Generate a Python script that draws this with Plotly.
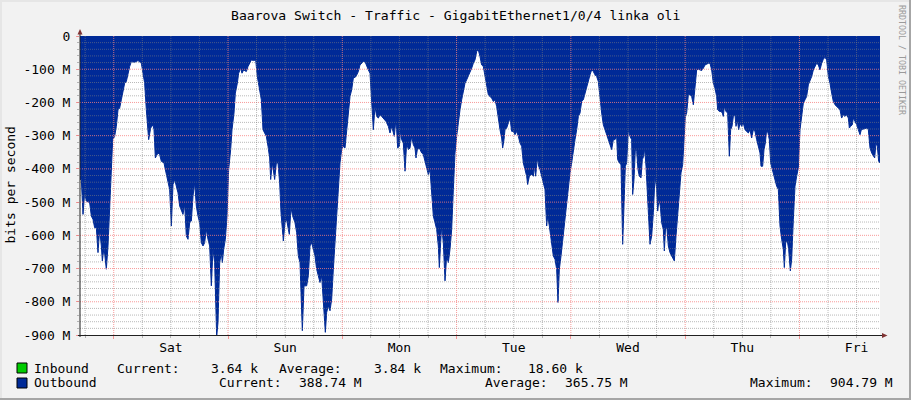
import pandas as pd
import plotly.graph_objects as go

# ---------------- data ----------------
# hours since the start of the graph (Fri 16:55), outbound traffic in Mbit/s
hours = [
    0, 0.28, 0.63, 0.98, 1.33, 2.03, 2.38, 2.73, 3.08, 3.43, 3.78, 4.13, 4.48, 4.69, 5.04, 5.53, 5.88, 6.23, 6.58, 6.86,
    7.28, 7.63, 7.98, 8.33, 8.68, 9.03, 9.38, 9.73, 10.08, 10.43, 10.78, 11.48, 12.18, 12.53, 12.88, 13.23, 13.58, 13.93,
    14.28, 14.42, 14.84, 15.33, 15.54, 15.82, 16.38, 16.73, 17.08, 17.64, 17.92, 18.34, 18.83, 19.18, 19.53, 19.88, 20.23,
    20.58, 20.93, 21.63, 21.98, 22.33, 22.68, 23.03, 23.38, 23.73, 24.08, 24.43, 24.78, 25.13, 25.48, 25.83, 26.18, 26.53,
    26.88, 27.23, 27.58, 27.93, 28.28, 28.49, 28.7, 28.98, 29.33, 29.68, 29.89, 30.17, 30.52, 30.87, 31.22, 31.64, 31.92,
    32.34, 32.62, 33.04, 33.32, 33.74, 34.02, 34.37, 34.93, 35.28, 35.63, 35.98, 36.47, 36.89, 37.24, 37.73, 38.08, 38.43,
    39.13, 39.48, 39.83, 40.04, 40.39, 40.88, 41.23, 41.58, 41.93,
    42.21, 42.7, 43.05, 43.4, 43.75, 43.96, 44.31, 44.66, 45.15, 45.5, 45.85, 46.2, 46.41, 46.69, 47.04, 47.6, 47.95, 48.3,
    48.65, 49.0, 49.35, 49.7, 50.05, 50.4, 50.75, 51.1, 51.52, 51.8, 52.15, 52.5, 52.85, 53.2, 53.55, 53.9, 54.25, 54.6,
    54.95, 55.3, 55.65, 56.0, 56.35, 56.7, 57.05, 57.4, 57.96, 58.45, 58.8, 59.15, 59.5, 59.85, 60.2, 60.55, 60.9, 61.25,
    61.6, 61.95, 62.3, 62.65, 63.0, 63.35, 63.7, 64.26, 64.75, 65.1, 65.45, 65.8, 66.01, 66.29, 66.5, 66.71, 67.06, 67.34,
    67.55, 67.9, 68.25, 68.6, 68.95, 69.3, 69.65, 70.0, 70.35, 70.56, 70.84, 71.26, 71.75, 72.1, 72.45, 72.8, 73.15, 73.5,
    73.85, 74.2, 74.55, 74.9, 75.25, 75.46, 75.74, 75.95, 76.3, 76.65, 77.0, 77.35, 77.7, 78.05, 78.4, 78.75, 79.1, 79.45,
    79.8, 80.15, 80.5, 80.85, 81.2, 81.55, 81.9, 82.25, 82.6, 82.95, 83.3, 83.65, 84.0,
    84.35, 84.7, 85.05, 85.4, 85.75, 86.1, 86.45, 86.8, 87.15, 87.5, 87.85, 88.2, 88.55, 88.76, 89.04, 89.25, 89.6, 89.95,
    90.3, 90.65, 91.0, 91.35, 91.7, 92.05, 92.4, 92.75, 93.1, 93.45, 93.8, 94.01, 94.36, 94.85, 95.2, 95.41, 95.69, 96.04,
    96.32, 96.6, 96.95, 97.3, 97.65, 98.0, 98.21, 98.56, 98.84, 99.12, 99.4, 99.75, 100.1, 100.38, 100.66, 101.01, 101.36,
    101.85, 102.2, 102.55, 102.9, 103.25, 103.6, 103.95, 104.3, 104.65, 105.0, 105.35, 105.7, 106.05, 106.4, 106.75, 107.1,
    107.45, 107.8, 108.15, 108.5, 108.85, 109.2, 109.55, 109.9, 110.25, 110.6, 110.95, 111.3, 111.65, 112.0, 112.35, 112.7,
    112.91, 113.26, 113.61, 113.96, 114.24, 114.52, 114.8, 115.15, 115.5, 115.85, 116.06, 116.34, 116.62, 116.9, 117.18,
    117.46, 117.81, 118.09, 118.37, 118.58, 118.86, 119.14, 119.42, 119.7, 120.05, 120.4, 120.75, 121.1, 121.31, 121.59,
    121.87, 122.15, 122.5, 122.71, 122.99, 123.27, 123.55, 123.9, 124.25, 124.6, 124.81, 125.16, 125.51, 125.79,
    126.21, 126.56, 126.84, 127.12, 127.4, 127.75, 128.1, 128.45, 128.8, 129.15, 129.5, 129.85, 130.2, 130.55, 130.9,
    131.25, 131.6, 131.95, 132.3, 132.65, 133.0, 133.35, 133.7, 133.91, 134.26, 134.61, 134.89, 135.1, 135.31, 135.66,
    136.01, 136.36, 136.64, 136.92, 137.2, 137.55, 137.76, 138.04, 138.32, 138.6, 138.95, 139.3, 139.65, 140.0, 140.35,
    140.7, 141.05, 141.4, 141.75, 142.1, 142.45, 142.8, 143.01, 143.36, 143.64, 143.92, 144.2, 144.48, 144.76, 145.04,
    145.39, 145.74, 146.02, 146.3, 146.65, 147.0, 147.35, 147.7, 147.91, 148.19, 148.54, 148.82, 149.17, 149.45, 149.8,
    150.15, 150.5, 150.85, 151.2, 151.55, 151.9, 152.25, 152.6, 152.95, 153.3, 153.65, 154.0, 154.35, 154.7, 155.05, 155.4,
    155.75, 156.1, 156.45, 156.8, 157.15, 157.5, 157.85, 158.2, 158.55, 158.9, 159.25, 159.6, 159.95, 160.3, 160.65, 161.0,
    161.35, 161.56, 161.84, 162.19, 162.4, 162.75, 163.1, 163.45, 163.8, 164.08, 164.5, 164.85, 165.2, 165.55, 165.9,
    166.25, 166.6, 166.88, 167.16, 167.44, 167.72, 168.0,
]
outbound_mbps = [
    432, 432, 537, 472, 497, 502, 542, 552, 577, 577, 652, 582, 632, 677, 637, 702, 632, 522, 432, 312,
    302, 272, 222, 217, 192, 167, 142, 137, 112, 92, 77, 79, 74, 77, 82, 112, 142, 222,
    282, 312, 277, 267, 282, 367, 352, 357, 377, 382, 402, 432, 462, 572, 447, 432, 452,
    472, 512, 537, 507, 602, 612, 562, 557, 482, 442, 512, 542, 562, 622, 632, 622, 582,
    612, 632, 752, 642, 682, 762, 905, 862, 682, 652, 682, 642, 612, 542, 402, 342, 282,
    232, 172, 142, 112, 97, 112, 102, 107, 92, 79, 72, 74, 72, 122, 167, 192, 282,
    302, 332, 367, 432, 382, 432, 382, 382, 442,
    532, 617, 562, 552, 582, 597, 517, 542, 562, 592, 662, 682, 772, 887, 752, 752, 722, 632,
    622, 642, 662, 702, 722, 742, 722, 812, 892, 832, 812, 827, 792, 702, 622, 532, 452, 382,
    342, 332, 337, 282, 222, 182, 162, 127, 122, 107, 87, 82, 77, 77, 92, 102, 112, 202,
    282, 212, 242, 247, 237, 242, 247, 257, 272, 292, 272, 292, 302, 257, 282, 337, 332, 282,
    312, 322, 407, 322, 342, 337, 302, 327, 337, 367, 342, 337, 352, 357, 377, 392, 417, 402,
    472, 542, 562, 582, 632, 697, 622, 572, 622, 737, 662, 682, 642, 582, 462, 352, 302, 252,
    222, 192, 162, 142, 132, 122, 107, 97, 82, 72, 47, 42, 62,
    87, 92, 117, 142, 177, 182, 187, 197, 192, 212, 252, 282, 307, 337, 312, 282, 277, 262,
    247, 287, 287, 297, 287, 302, 322, 332, 382, 402, 422, 447, 422, 417, 422, 392, 422, 367,
    392, 402, 422, 442, 462, 572, 542, 572, 602, 632, 662, 672, 702, 802, 702, 662, 612,
    562, 512, 452, 412, 382, 342, 312, 282, 242, 232, 197, 192, 172, 157, 137, 117,
    102, 107, 117, 122, 137, 192, 232, 267, 282, 297, 312, 327, 342, 312, 312, 302,
    372, 382, 387, 627, 532, 392, 382, 282, 302, 312, 477, 432, 342, 347, 402,
    422, 427, 372, 362, 337, 392, 472, 542, 627, 602, 532, 422, 462, 527, 492,
    512, 562, 582, 647, 572, 582, 632, 652, 662, 672, 677, 602, 532, 472,
    412, 387, 312, 242, 232, 177, 177, 182, 207, 142, 102, 100, 102, 104, 97,
    87, 85, 82, 82, 102, 142, 157, 182, 222, 227, 227, 232, 242, 212, 227,
    232, 362, 282, 272, 242, 237, 272, 252, 282, 262, 272, 262, 282, 287, 292,
    282, 307, 282, 287, 312, 332, 352, 392, 392, 342, 322, 282, 292, 312, 382,
    402, 422, 442, 452, 462, 572, 612, 642, 697, 622, 617, 642, 707, 672, 552,
    452, 422, 397, 282, 237, 202, 192, 182, 147, 137, 122, 102, 90, 82, 87, 102,
    82, 70, 64, 72, 122, 142, 172, 197, 207, 212, 217, 222, 247, 237, 242, 237,
    247, 277, 272, 267, 247, 257, 267, 282, 297, 282, 280, 277, 277, 282, 337,
    352, 362, 367, 322, 332, 377, 382,
]

y_tick_values_m = [0, -100, -200, -300, -400, -500, -600, -700, -800, -900]
y_tick_labels = ["0", "-100 M", "-200 M", "-300 M", "-400 M", "-500 M", "-600 M", "-700 M", "-800 M", "-900 M"]

legend_names = ["Inbound", "Outbound"]
legend_colors = ["#00CC00", "#002A97"]
inbound_stats = ["3.64 k", "3.84 k", "18.60 k"]
outbound_stats = ["388.74 M", "365.75 M", "904.79 M"]

TITLE = "Baarova Switch - Traffic - GigabitEthernet1/0/4 linka oli"
FONT = "DejaVu Sans Mono"

# ---------------- figure ----------------
W, H = 911, 400
L, R, T, B = 80, 31, 36, 65
PW, PH = W - L - R, H - T - B


def px(x):
    return (x - L) / PW


def py(y):
    return (H - B - y) / PH


start = pd.Timestamp("2024-01-05 16:55")
end = start + pd.Timedelta(hours=168)
times = [start + pd.Timedelta(hours=h) for h in hours]
yvals = [-v * 1e6 for v in outbound_mbps]

fig = go.Figure()
fig.add_trace(go.Scatter(
    x=times, y=yvals, mode="lines",
    line=dict(color="#002A97", width=1),
    fill="tozeroy", fillcolor="#002A97",
    hoverinfo="skip", name="Outbound",
))

GRID = "rgba(128,128,128,0.55)"
MGRID = "rgba(245,128,128,0.8)"
ARROW = "rgb(128,51,51)"
AXIS = "rgb(33,33,33)"

shapes = []
# horizontal grid (drawn above the area like rrdtool)
for v in range(20, 900, 20):
    shapes.append(dict(type="line", xref="paper", yref="y", x0=0, x1=1, y0=-v * 1e6, y1=-v * 1e6,
                       line=dict(color=MGRID if v % 100 == 0 else GRID, width=1, dash="1px,1px"),
                       layer="above"))
# vertical grid every 6 hours
for t in pd.date_range(start.ceil("6h"), end, freq="6h"):
    shapes.append(dict(type="line", xref="x", yref="paper", x0=t, x1=t, y0=0, y1=1,
                       line=dict(color=MGRID if t.hour == 0 else GRID, width=1, dash="1px,1px"),
                       layer="above"))
# axis lines + arrows
shapes.append(dict(type="line", xref="paper", yref="paper", x0=px(80), x1=px(80), y0=py(337), y1=py(32),
                   line=dict(color=AXIS, width=1), layer="above"))
shapes.append(dict(type="line", xref="paper", yref="paper", x0=px(78), x1=px(883), y0=py(335.5), y1=py(335.5),
                   line=dict(color=AXIS, width=1), layer="above"))
shapes.append(dict(type="path", xref="paper", yref="paper",
                   path=f"M {px(77.5)} {py(34.5)} L {px(82.5)} {py(34.5)} L {px(80)} {py(29)} Z",
                   fillcolor=ARROW, line=dict(width=0), layer="above"))
shapes.append(dict(type="path", xref="paper", yref="paper",
                   path=f"M {px(882)} {py(333)} L {px(882)} {py(338)} L {px(887.5)} {py(335.5)} Z",
                   fillcolor=ARROW, line=dict(width=0), layer="above"))
# frame shading
shapes.append(dict(type="rect", xref="paper", yref="paper", x0=px(0), x1=px(W), y0=py(0), y1=py(2),
                   fillcolor="#E6E6E6", line=dict(width=0), layer="below"))
shapes.append(dict(type="rect", xref="paper", yref="paper", x0=px(0), x1=px(2), y0=py(0), y1=py(H),
                   fillcolor="#E6E6E6", line=dict(width=0), layer="below"))
shapes.append(dict(type="rect", xref="paper", yref="paper", x0=px(0), x1=px(W), y0=py(H - 2), y1=py(H),
                   fillcolor="#A6A6A6", line=dict(width=0), layer="below"))
shapes.append(dict(type="rect", xref="paper", yref="paper", x0=px(W - 2), x1=px(W), y0=py(0), y1=py(H),
                   fillcolor="#A6A6A6", line=dict(width=0), layer="below"))
# legend swatches
for i, c in enumerate(legend_colors):
    yc = 368 + 15 * i
    shapes.append(dict(type="rect", xref="paper", yref="paper", x0=px(17), x1=px(27), y0=py(yc - 5), y1=py(yc + 5),
                       fillcolor=c, line=dict(color="black", width=1)))

font = dict(family=FONT, size=13, color="black")
annotations = []


def text(x, y, s, anchor="left", **kw):
    annotations.append(dict(xref="paper", yref="paper", x=px(x), y=py(y), text=s, showarrow=False,
                            xanchor=anchor, yanchor="middle", borderpad=0, borderwidth=0,
                            font=kw.pop("font", font), **kw))


text(455.5, 15, TITLE, anchor="center", font=dict(family=FONT, size=13.1, color="black"))
text(10, 185.5, "bits per second", anchor="center", textangle=-90)
text(902, 60, "RRDTOOL / TOBI OETIKER", anchor="center", textangle=90,
     font=dict(family=FONT, size=8.3, color="#9A9A9A"))

# legend line 1
text(34, 368, legend_names[0])
text(117, 368, "Current:")
text(258, 368, inbound_stats[0], anchor="right")
text(279, 368, "Average:")
text(421, 368, inbound_stats[1], anchor="right")
text(440, 368, "Maximum:")
text(583, 368, inbound_stats[2], anchor="right")
# legend line 2
text(34, 383, legend_names[1])
text(219, 383, "Current:")
text(362, 383, outbound_stats[0], anchor="right")
text(485, 383, "Average:")
text(628, 383, outbound_stats[1], anchor="right")
text(750, 383, "Maximum:")
text(893, 383, outbound_stats[2], anchor="right")

fig.update_layout(
    width=W, height=H,
    margin=dict(l=L, r=R, t=T, b=B, pad=0),
    paper_bgcolor="#F2F2F2", plot_bgcolor="white",
    showlegend=False,
    shapes=shapes, annotations=annotations,
    xaxis=dict(
        type="date", range=[start, end],
        tick0="2024-01-06", dtick=86400000, ticklabelmode="period", tickformat="%a",
        showgrid=False, zeroline=False, showline=False,
        ticks="outside", ticklen=3, tickcolor=MGRID,
        ticklabelstandoff=-3,
        minor=dict(dtick=6 * 3600000, ticks="outside", ticklen=2, tickcolor=GRID, showgrid=False),
        tickfont=font,
    ),
    yaxis=dict(
        range=[-900e6, 0],
        tickvals=[v * 1e6 for v in y_tick_values_m], ticktext=y_tick_labels,
        showgrid=False, zeroline=False, showline=False,
        ticks="outside", ticklen=3, tickcolor=MGRID,
        ticklabelstandoff=3,
        minor=dict(tick0=0, dtick=20e6, ticks="outside", ticklen=2, tickcolor=GRID, showgrid=False),
        tickfont=font,
    ),
)

fig.write_html(
    "out.html",
    config={"displayModeBar": False, "staticPlot": True},
    post_script="document.body.style.margin='0';document.body.style.padding='0';"
                "document.body.style.overflow='hidden';",
)
